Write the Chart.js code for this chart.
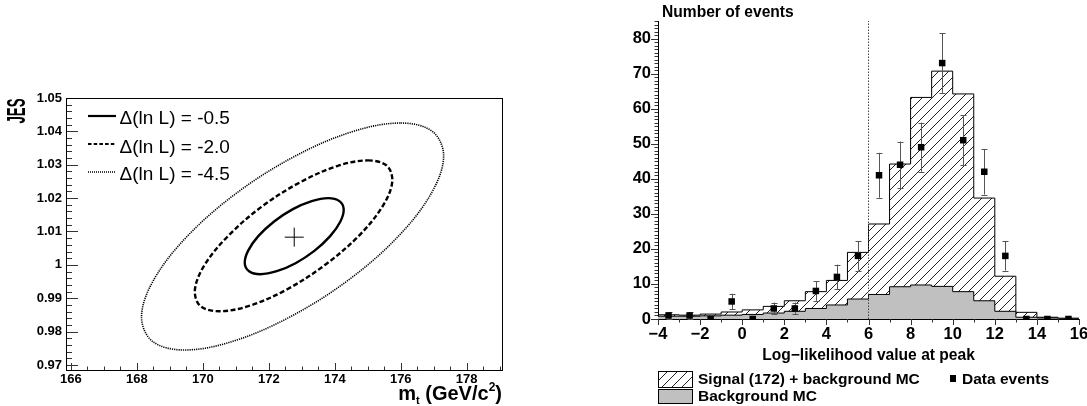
<!DOCTYPE html>
<html>
<head>
<meta charset="utf-8">
<script src="https://cdn.jsdelivr.net/npm/chart.js@4.4.1/dist/chart.umd.min.js"></script>
<style>
  html, body { margin: 0; padding: 0; background: #fff; }
  body { width: 1087px; height: 406px; position: relative; overflow: hidden;
         font-family: "Liberation Sans", Arial, Helvetica, sans-serif; color: #000; }
  .abs { position: absolute; line-height: 1; white-space: nowrap; }
  .mid { transform: translateY(-50%); }
  #left { position: absolute; left: 0; top: 0; }
  #right { position: absolute; left: 600px; top: 0; }
</style>
</head>
<body>
<canvas id="left" width="530" height="406"></canvas>
<canvas id="right" width="500" height="406"></canvas>

<!-- left panel texts -->
<div class="abs" style="left:16px; top:110.5px; font-size:25px; font-weight:bold; transform: translate(-50%,-50%) rotate(-90deg) scaleX(0.53);">JES</div>
<div class="abs mid" style="right:585px; top:393px; font-size:20px; font-weight:bold;">m<span style="font-size:11px; position:relative; top:4px;">t</span> (GeV/c<span style="font-size:12px; position:relative; top:-9px;">2</span>)</div>
<div id="leftLegend"></div>

<!-- right panel texts -->
<div class="abs mid" style="left:662px; top:12px; font-size:15.6px; font-weight:bold;">Number of events</div>
<canvas id="hatchBox" width="35" height="17" style="position:absolute; left:658px; top:371px;"></canvas>
<div style="position:absolute; left:658px; top:389px; width:35px; height:15px; box-sizing:border-box; background:#c0c0c0; border:1px solid #000;"></div>
<div class="abs mid" style="left:698px; top:378.5px; font-size:15.5px; font-weight:bold;">Signal (172) + background MC</div>
<div class="abs mid" style="left:698px; top:395.5px; font-size:15.5px; font-weight:bold;">Background MC</div>
<div style="position:absolute; left:949.5px; top:375px; width:6.5px; height:6.5px; background:#000;"></div>
<div class="abs mid" style="left:962px; top:378.5px; font-size:15.5px; font-weight:bold;">Data events</div>

<script>
// ---------- left panel: likelihood contours in (m_t, JES) ----------
var contourLabels = ['Δ(ln L) = -0.5', 'Δ(ln L) = -2.0', 'Δ(ln L) = -4.5'];
var contour05 = [[173.80,1.0200],[174.14,1.0191],[174.27,1.0167],[174.17,1.0130],[173.86,1.0086],[173.38,1.0042],
  [172.81,1.0005],[172.24,0.9981],[171.74,0.9972],[171.40,0.9981],[171.27,1.0005],[171.37,1.0042],
  [171.68,1.0086],[172.16,1.0130],[172.73,1.0167],[173.30,1.0191]];
var contour20 = [[175.00,1.0313],[175.59,1.0296],[175.74,1.0247],[175.44,1.0174],[174.73,1.0087],[173.72,1.0001],
  [172.56,0.9927],[171.43,0.9878],[170.50,0.9861],[169.91,0.9878],[169.76,0.9927],[170.06,1.0001],
  [170.77,1.0087],[171.78,1.0174],[172.94,1.0247],[174.07,1.0296]];
var contour45 = [[176.00,1.0425],[176.97,1.0399],[177.30,1.0325],[176.93,1.0215],[175.92,1.0085],[174.42,0.9955],
  [172.66,0.9845],[170.91,0.9771],[169.44,0.9745],[168.47,0.9771],[168.14,0.9845],[168.51,0.9955],
  [169.52,1.0085],[171.02,1.0215],[172.78,1.0325],[174.53,1.0399]];
var bestFit = [172.77, 1.0083];
var massTicks = [166, 168, 170, 172, 174, 176, 178];
var massTickLabels = ['166', '168', '170', '172', '174', '176', '178'];
var jesTicks = [0.97, 0.98, 0.99, 1, 1.01, 1.02, 1.03, 1.04, 1.05];
var jesTickLabels = ['0.97', '0.98', '0.99', '1', '1.01', '1.02', '1.03', '1.04', '1.05'];

// ---------- right panel: log-likelihood histogram ----------
var binEdges = [-4,-3,-2,-1,0,1,2,3,4,5,6,7,8,9,10,11,12,13,14,15,16];
var sigPlusBkg = [1.2, 1.1, 1.4, 2.0, 2.6, 3.6, 5.2, 7.8, 11.0, 19.0, 27.1, 44.2, 63.2, 70.7, 64.2, 34.5, 12.2, 1.9, 0.5, 0.2];
var bkgMC      = [0.8, 0.8, 0.9, 1.1, 1.3, 1.7, 2.2, 3.0, 4.0, 5.7, 7.0, 9.2, 9.7, 9.3, 7.8, 5.2, 2.2, 0.5, 0.3, 0.2];
var dataEvents = [1, 1, 0, 5, 0, 3, 3, 8, 12, 18, 41, 44, 49, 73, 51, 42, 18, 0, 0, 0];
var dataErrors = [1, 1, 0, 2.2, 0, 1.7, 1.7, 2.8, 3.5, 4.2, 6.4, 6.6, 7.0, 8.5, 7.1, 6.5, 4.2, 0, 0, 0];
var cutValue = 6;
var llTicks = [-4, -2, 0, 2, 4, 6, 8, 10, 12, 14, 16];
var llTickLabels = ['\u22124', '\u22122', '0', '2', '4', '6', '8', '10', '12', '14', '16'];
var countTicks = [0, 10, 20, 30, 40, 50, 60, 70, 80];
var countTickLabels = ['0', '10', '20', '30', '40', '50', '60', '70', '80'];

var FONT = '"Liberation Sans", Arial, Helvetica, sans-serif';
Chart.defaults.font.family = FONT;
Chart.defaults.color = '#000';

function toXY(list) { return list.map(function(p) { return {x: p[0], y: p[1]}; }); }
function stepPoints(vals) {
  // one point per left bin edge, plus the right edge of the last bin
  return binEdges.map(function(x, i) { return {x: x, y: vals[Math.min(i, vals.length - 1)]}; });
}
function makeHatch(ctx) {
  var c = document.createElement('canvas');
  c.width = c.height = 10;
  var g = c.getContext('2d');
  g.strokeStyle = '#222';
  g.lineWidth = 1;
  g.beginPath();
  g.moveTo(0, 10); g.lineTo(10, 0);
  g.moveTo(-1, 1); g.lineTo(1, -1);
  g.moveTo(9, 11); g.lineTo(11, 9);
  g.stroke();
  return ctx.createPattern(c, 'repeat');
}

// ROOT style tick marks (and optional frame), drawn through the chart scales
function rootTicks(marks, frame) {
  return {
    id: 'rootTicks',
    afterDatasetsDraw: function(chart) {
      var ctx = chart.ctx, a = chart.chartArea;
      ctx.save();
      ctx.strokeStyle = '#333';
      ctx.lineWidth = 1;
      ctx.beginPath();
      marks.forEach(function(t) {
        var s = chart.scales[t.axis];
        var n = Math.round((t.to - t.from) / t.step);
        for (var i = 0; i <= n; i++) {
          var p = Math.round(s.getPixelForValue(t.from + i * t.step)) + 0.5;
          if (s.isHorizontal()) { ctx.moveTo(p, a.bottom); ctx.lineTo(p, a.bottom + t.dir * t.len); }
          else { ctx.moveTo(a.left, p); ctx.lineTo(a.left + t.dir * t.len, p); }
        }
      });
      ctx.stroke();
      if (frame) {
        ctx.strokeStyle = '#000';
        ctx.strokeRect(Math.round(a.left) + 0.5, Math.round(a.top) + 0.5,
                       Math.round(a.right - a.left), Math.round(a.bottom - a.top));
      }
      ctx.restore();
    }
  };
}

// closed contour curves
var closeLoops = {
  id: 'closeLoops',
  afterDatasetsUpdate: function(chart) {
    chart.data.datasets.forEach(function(ds, i) {
      if (!ds.closed) return;
      var line = chart.getDatasetMeta(i).dataset;
      line._loop = true;
      line._fullLoop = true;
      line._pointsUpdated = false;
      line._segments = undefined;
      line._path = undefined;
    });
  }
};

var tickFont = function(size) { return {family: FONT, size: size, weight: 'bold'}; };

// ---------------- left chart ----------------
var contourStyles = [
  {dash: [], width: 2.4},
  {dash: [5, 2.5], width: 2.4},
  {dash: [1.2, 1], width: 1.6}
];
var contourData = [contour05, contour20, contour45];

var leftChart = new Chart(document.getElementById('left'), {
  type: 'scatter',
  data: {
    datasets: contourData.map(function(c, i) {
      return {
        label: contourLabels[i], data: toXY(c), showLine: true, closed: true,
        borderColor: '#000', borderWidth: contourStyles[i].width, borderDash: contourStyles[i].dash,
        pointRadius: 0, tension: 0.35
      };
    }).concat([{
      label: 'best fit', data: [{x: bestFit[0], y: bestFit[1]}], showLine: false,
      pointStyle: 'cross', pointRadius: 9.5, pointBorderWidth: 1, pointBorderColor: '#000'
    }])
  },
  options: {
    responsive: false, animation: false, events: [],
    layout: {padding: {left: 0, top: 98, right: 28, bottom: 0}},
    plugins: {legend: {display: false}, tooltip: {enabled: false}},
    scales: {
      x: {
        type: 'linear', bounds: 'data', min: 165.85, max: 179.07,
        grid: {display: false, drawTicks: false}, border: {display: false},
        afterBuildTicks: function(s) { s.ticks = massTicks.map(function(v) { return {value: v}; }); },
        afterFit: function(s) { s.height = 36; },
        ticks: {autoSkip: false, maxRotation: 0, padding: 2, color: '#000', font: tickFont(13),
                callback: function(v, i) { return massTickLabels[i]; }}
      },
      y: {
        type: 'linear', bounds: 'data', min: 0.9685, max: 1.05,
        grid: {display: false, drawTicks: false}, border: {display: false},
        afterBuildTicks: function(s) { s.ticks = jesTicks.map(function(v) { return {value: v}; }); },
        afterFit: function(s) { s.width = 66; },
        ticks: {autoSkip: false, padding: 4, color: '#000', font: tickFont(13),
                callback: function(v, i) { return jesTickLabels[i]; }}
      }
    }
  },
  plugins: [closeLoops, rootTicks([
    {axis: 'x', from: 166, to: 178, step: 2, len: 7, dir: -1},
    {axis: 'x', from: 166, to: 179, step: 0.5, len: 3.5, dir: -1},
    {axis: 'y', from: 0.97, to: 1.05, step: 0.01, len: 12, dir: 1},
    {axis: 'y', from: 0.97, to: 1.05, step: 0.002, len: 6, dir: 1}
  ], true)]
});

// left legend, built from the contour datasets
(function() {
  var holder = document.getElementById('leftLegend');
  var rows = [115.7, 144.3, 171.7];
  contourLabels.forEach(function(lbl, i) {
    var st = contourStyles[i];
    var svg = '<svg width="28" height="6" style="position:absolute; left:88px; top:' + (rows[i] - 3) + 'px;">' +
      '<line x1="0" y1="3" x2="28" y2="3" stroke="#000" stroke-width="' + (i === 2 ? 1.5 : 2.2) + '"' +
      (st.dash.length ? ' stroke-dasharray="' + (i === 1 ? '3.5,2.2' : '1,1') + '"' : '') + '/></svg>';
    holder.insertAdjacentHTML('beforeend', svg +
      '<div class="abs mid" style="left:119.5px; top:' + (rows[i] + 1.2) + 'px; font-size:19px;">' + lbl + '</div>');
  });
})();

// ---------------- right chart ----------------
var rightCanvas = document.getElementById('right');
var hatch = makeHatch(rightCanvas.getContext('2d'));
var binCenters = dataEvents.map(function(v, i) { return (binEdges[i] + binEdges[i + 1]) / 2; });

var errorBars = {
  id: 'errorBars',
  beforeDatasetDraw: function(chart, args) {
    if (args.index !== 0) return;
    var ctx = chart.ctx, xs = chart.scales.x, ys = chart.scales.y;
    ctx.save();
    ctx.strokeStyle = '#555';
    ctx.lineWidth = 1;
    ctx.beginPath();
    binCenters.forEach(function(c, i) {
      if (!dataErrors[i]) return;
      var px = Math.round(xs.getPixelForValue(c)) + 0.5;
      var lo = ys.getPixelForValue(dataEvents[i] - dataErrors[i]);
      var hi = ys.getPixelForValue(dataEvents[i] + dataErrors[i]);
      ctx.moveTo(px, lo); ctx.lineTo(px, hi);
      ctx.moveTo(px - 3, Math.round(lo) + 0.5); ctx.lineTo(px + 3, Math.round(lo) + 0.5);
      ctx.moveTo(px - 3, Math.round(hi) + 0.5); ctx.lineTo(px + 3, Math.round(hi) + 0.5);
    });
    ctx.stroke();
    ctx.restore();
  }
};

var rightChart = new Chart(rightCanvas, {
  type: 'line',
  data: {
    datasets: [
      {
        label: 'Data events', data: binCenters.map(function(x, i) { return {x: x, y: dataEvents[i]}; }),
        showLine: false, pointStyle: 'rect', pointRadius: 4.6,
        pointBackgroundColor: '#000', pointBorderWidth: 0, clip: 0
      },
      {
        label: 'cut', data: [{x: cutValue, y: 0}, {x: cutValue, y: 85}],
        borderColor: '#444', borderWidth: 1, borderDash: [1.5, 1.5], pointRadius: 0
      },
      {
        label: 'Background MC', data: stepPoints(bkgMC), stepped: true, fill: 'origin',
        backgroundColor: '#c0c0c0', borderColor: '#000', borderWidth: 1, pointRadius: 0
      },
      {
        label: 'Signal (172) + background MC', data: stepPoints(sigPlusBkg), stepped: true, fill: 'origin',
        backgroundColor: hatch, borderColor: '#000', borderWidth: 1, pointRadius: 0
      }
    ]
  },
  options: {
    responsive: false, animation: false, events: [],
    layout: {padding: {left: 0, top: 21, right: 21, bottom: 41}},
    plugins: {legend: {display: false}, tooltip: {enabled: false}, filler: {propagate: false}},
    scales: {
      x: {
        type: 'linear', bounds: 'data', min: -4, max: 16,
        grid: {display: false, drawTicks: false}, border: {display: true, color: '#000', width: 1},
        afterBuildTicks: function(s) { s.ticks = llTicks.map(function(v) { return {value: v}; }); },
        afterFit: function(s) { s.height = 46; },
        ticks: {autoSkip: false, maxRotation: 0, padding: 6, color: '#000', font: tickFont(16.5),
                callback: function(v, i) { return llTickLabels[i]; }},
        title: {display: true, text: 'Log\u2212likelihood value at peak', color: '#000',
                font: {family: FONT, size: 15.6, weight: 'bold'}, padding: 0}
      },
      y: {
        type: 'linear', bounds: 'data', min: 0, max: 85,
        grid: {display: false, drawTicks: false}, border: {display: true, color: '#000', width: 1},
        afterBuildTicks: function(s) { s.ticks = countTicks.map(function(v) { return {value: v}; }); },
        afterFit: function(s) { s.width = 58; },
        ticks: {autoSkip: false, padding: 7, color: '#000', font: tickFont(16.5),
                callback: function(v, i) { return countTickLabels[i]; }}
      }
    }
  },
  plugins: [errorBars, rootTicks([
    {axis: 'x', from: -4, to: 16, step: 2, len: 6, dir: 1},
    {axis: 'x', from: -4, to: 16, step: 1, len: 3.5, dir: 1},
    {axis: 'y', from: 0, to: 80, step: 10, len: 7, dir: -1},
    {axis: 'y', from: 0, to: 85, step: 1, len: 3.5, dir: -1}
  ], false)]
});

// legend box with the same hatch
(function() {
  var bx = document.getElementById('hatchBox').getContext('2d');
  bx.fillStyle = makeHatch(bx);
  bx.fillRect(0, 0, 35, 17);
  bx.strokeStyle = '#000';
  bx.lineWidth = 1;
  bx.strokeRect(0.5, 0.5, 34, 16);
})();
</script>
</body>
</html>
